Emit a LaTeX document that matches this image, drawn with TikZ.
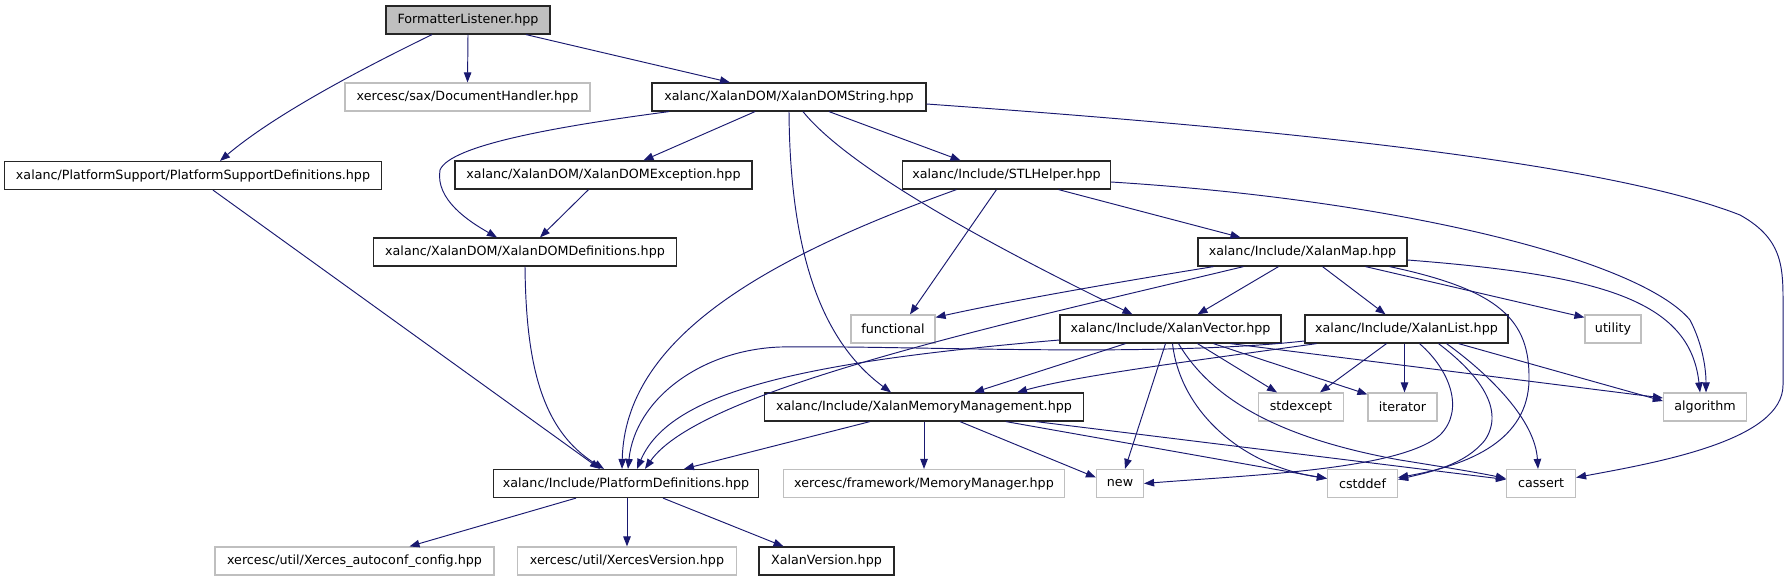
\documentclass[tikz,border=0pt]{standalone}
\usepackage{fontspec}
\setmainfont{DejaVu Sans}
\usetikzlibrary{arrows.meta}
\definecolor{edgec}{HTML}{191970}
\definecolor{extc}{HTML}{BFBFBF}
\definecolor{rootc}{HTML}{BFBFBF}
\tikzset{
  box/.style={draw, line width=1.2pt, minimum height=28pt, inner sep=0pt, font=\fontsize{12.7}{14}\selectfont, text=black},
  docbox/.style={box, draw=black!85, fill=white},
  extbox/.style={box, draw=extc, fill=white},
  rootbox/.style={box, draw=black!85, fill=rootc},
  edge/.style={draw=edgec, line width=0.95pt, -{Triangle[length=10pt,width=7.5pt]}, fill=none},
}
\begin{document}
\begin{tikzpicture}[x=1pt,y=-1pt]
\useasboundingbox (0,0) rectangle (1790,581);
% nodes
\node[rootbox, minimum width=164pt] (FL) at (468,20) {FormatterListener.hpp};
\node[extbox, minimum width=245pt] (DH) at (467.5,97) {xercesc/sax/DocumentHandler.hpp};
\node[docbox, minimum width=377pt] (PSD) at (193,175.5) {xalanc/PlatformSupport/PlatformSupportDefinitions.hpp};
\node[docbox, minimum width=274pt] (XDS) at (789,97) {xalanc/XalanDOM/XalanDOMString.hpp};
\node[docbox, minimum width=297pt] (XDE) at (603.5,175) {xalanc/XalanDOM/XalanDOMException.hpp};
\node[docbox, minimum width=208pt] (STL) at (1006.5,175) {xalanc/Include/STLHelper.hpp};
\node[docbox, minimum width=303pt] (XDD) at (525,252) {xalanc/XalanDOM/XalanDOMDefinitions.hpp};
\node[docbox, minimum width=209pt] (XMap) at (1302.5,252) {xalanc/Include/XalanMap.hpp};
\node[extbox, minimum width=84pt] (functional) at (893,329) {functional};
\node[docbox, minimum width=221pt] (XVec) at (1170.5,329) {xalanc/Include/XalanVector.hpp};
\node[docbox, minimum width=203pt] (XList) at (1406.5,329) {xalanc/Include/XalanList.hpp};
\node[extbox, minimum width=56pt] (utility) at (1613,329) {utility};
\node[docbox, minimum width=319pt] (XMM) at (924,407) {xalanc/Include/XalanMemoryManagement.hpp};
\node[extbox, minimum width=85pt] (stdexcept) at (1301,407) {stdexcept};
\node[extbox, minimum width=69pt] (iterator) at (1402.5,407) {iterator};
\node[extbox, minimum width=83pt] (algorithm) at (1705,407) {algorithm};
\node[docbox, minimum width=265pt] (PD) at (626,483.5) {xalanc/Include/PlatformDefinitions.hpp};
\node[extbox, minimum width=281pt] (MemMgr) at (924,483.5) {xercesc/framework/MemoryManager.hpp};
\node[extbox, minimum width=47pt] (new) at (1120,483.5) {new};
\node[extbox, minimum width=70pt] (cstddef) at (1362.5,483.5) {cstddef};
\node[extbox, minimum width=69pt] (cassert) at (1541,483.5) {cassert};
\node[extbox, minimum width=279pt] (XAC) at (354.5,561) {xercesc/util/Xerces\_autoconf\_config.hpp};
\node[extbox, minimum width=219pt] (XV) at (627,561) {xercesc/util/XercesVersion.hpp};
\node[docbox, minimum width=135pt] (XalanVersion) at (826.5,561) {XalanVersion.hpp};
% edges
\draw[edge] ([xshift=-36pt]FL.south) .. controls (380,60) and (280,110) .. ([xshift=27pt]PSD.north);
\draw[edge] (FL.south) -- (DH.north);
\draw[edge] ([xshift=58pt]FL.south) -- ([xshift=-59pt]XDS.north);
\draw[edge] ([xshift=20pt]PSD.south) -- ([xshift=-26pt]PD.north);
\draw[edge] ([xshift=-120pt]XDS.south) .. controls (560,126) and (450,145) .. (440,170) .. controls (435,200) and (470,222) .. ([xshift=-28pt]XDD.north);
\draw[edge] ([xshift=-34pt]XDS.south) -- ([xshift=40pt]XDE.north);
\draw[edge] (XDS.south) .. controls (790,250) and (820,340) .. ([xshift=-33pt]XMM.north);
\draw[edge] ([xshift=14pt]XDS.south) .. controls (850,170) and (1000,250) .. ([xshift=-38pt]XVec.north);
\draw[edge] ([xshift=40pt]XDS.south) -- ([xshift=-46pt]STL.north);
\draw[edge] ([yshift=-7pt]XDS.east) .. controls (1250,127) and (1600,160) .. (1740,215) .. controls (1785,240) and (1783,270) .. (1783,310) -- (1783,385) .. controls (1783,440) and (1660,462) .. ([yshift=6pt]cassert.east);
\draw[edge] ([xshift=-15pt]XDE.south) -- ([xshift=15pt]XDD.north);
\draw[edge] (XDD.south) .. controls (526,360) and (540,430) .. ([xshift=-22pt]PD.north);
\draw[edge] ([xshift=-50pt]STL.south) .. controls (760,260) and (625,340) .. ([xshift=-4pt]PD.north);
\draw[edge] ([xshift=-10pt]STL.south) -- ([xshift=17pt]functional.north);
\draw[edge] ([xshift=52pt]STL.south) -- ([xshift=-62pt]XMap.north);
\draw[edge] ([yshift=-7pt]STL.east) .. controls (1400,200) and (1640,260) .. (1690,320) .. controls (1703,345) and (1706,370) .. ([xshift=1pt]algorithm.north);
\draw[edge] ([xshift=-89pt]XMap.south) .. controls (1100,285) and (1000,303) .. ([yshift=-3pt]functional.north east);
\draw[edge] ([xshift=-59pt]XMap.south) .. controls (1000,325) and (700,390) .. ([xshift=19pt]PD.north);
\draw[edge] ([xshift=-24pt]XMap.south) -- ([xshift=27pt]XVec.north);
\draw[edge] ([xshift=20pt]XMap.south) -- ([xshift=-21pt]XList.north);
\draw[edge] ([xshift=63pt]XMap.south) -- ([yshift=-3pt]utility.north west);
\draw[edge] ([yshift=-8pt]XMap.east) .. controls (1600,275) and (1690,300) .. ([xshift=-5pt]algorithm.north);
\draw[edge] ([xshift=87pt]XMap.south) .. controls (1500,290) and (1530,320) .. (1529,380) .. controls (1528,440) and (1470,465) .. ([yshift=6pt]cstddef.east);
\draw[edge] ([yshift=-11pt]XVec.west) .. controls (800,362) and (670,392) .. ([xshift=11pt]PD.north);
\draw[edge] ([xshift=-45pt]XVec.south) -- ([xshift=50pt]XMM.north);
\draw[edge] ([xshift=27pt]XVec.south) -- ([xshift=-24pt]stdexcept.north);
\draw[edge] ([xshift=43pt]XVec.south) -- ([yshift=-2pt]iterator.north west);
\draw[edge] ([xshift=60pt]XVec.south) -- ([yshift=9pt]algorithm.west);
\draw[edge] ([xshift=-5pt]XVec.south) -- ([xshift=5pt]new.north);
\draw[edge] ([xshift=2pt]XVec.south) .. controls (1180,410) and (1240,465) .. ([yshift=5pt]cstddef.west);
\draw[edge] ([xshift=8pt]XVec.south) .. controls (1215,405) and (1290,440) .. (1400,460) .. controls (1450,468) and (1480,473) .. ([yshift=5pt]cassert.west);
\draw[edge] ([yshift=-12pt]XList.west) .. controls (1150,358) and (900,345) .. (780,347) .. controls (700,350) and (635,400) .. ([xshift=2pt]PD.north);
\draw[edge] ([xshift=-90pt]XList.south) .. controls (1200,360) and (1080,375) .. ([xshift=93pt]XMM.north);
\draw[edge] ([xshift=-20pt]XList.south) -- ([xshift=19pt]stdexcept.north);
\draw[edge] ([xshift=-2pt]XList.south) -- ([xshift=2pt]iterator.north);
\draw[edge] ([xshift=52pt]XList.south) -- ([yshift=6pt]algorithm.west);
\draw[edge] ([xshift=13pt]XList.south) .. controls (1450,370) and (1465,410) .. (1440,435) .. controls (1400,470) and (1250,475) .. (new.east);
\draw[edge] ([xshift=32pt]XList.south) .. controls (1480,375) and (1505,410) .. (1485,440) .. controls (1465,465) and (1430,472) .. ([yshift=4pt]cstddef.east);
\draw[edge] ([xshift=40pt]XList.south) .. controls (1490,375) and (1535,420) .. ([xshift=-3pt]cassert.north);
\draw[edge] ([xshift=-54pt]XMM.south) -- ([xshift=58pt]PD.north);
\draw[edge] (XMM.south) -- (MemMgr.north);
\draw[edge] ([xshift=36pt]XMM.south) -- ([yshift=6pt]new.west);
\draw[edge] ([xshift=82pt]XMM.south) -- ([yshift=5pt]cstddef.west);
\draw[edge] ([xshift=112pt]XMM.south) -- ([yshift=4pt]cassert.west);
\draw[edge] ([xshift=-50pt]PD.south) -- ([xshift=55pt]XAC.north);
\draw[edge] ([xshift=1pt]PD.south) -- (XV.north);
\draw[edge] ([xshift=37pt]PD.south) -- ([xshift=-43pt]XalanVersion.north);
\end{tikzpicture}
\end{document}
